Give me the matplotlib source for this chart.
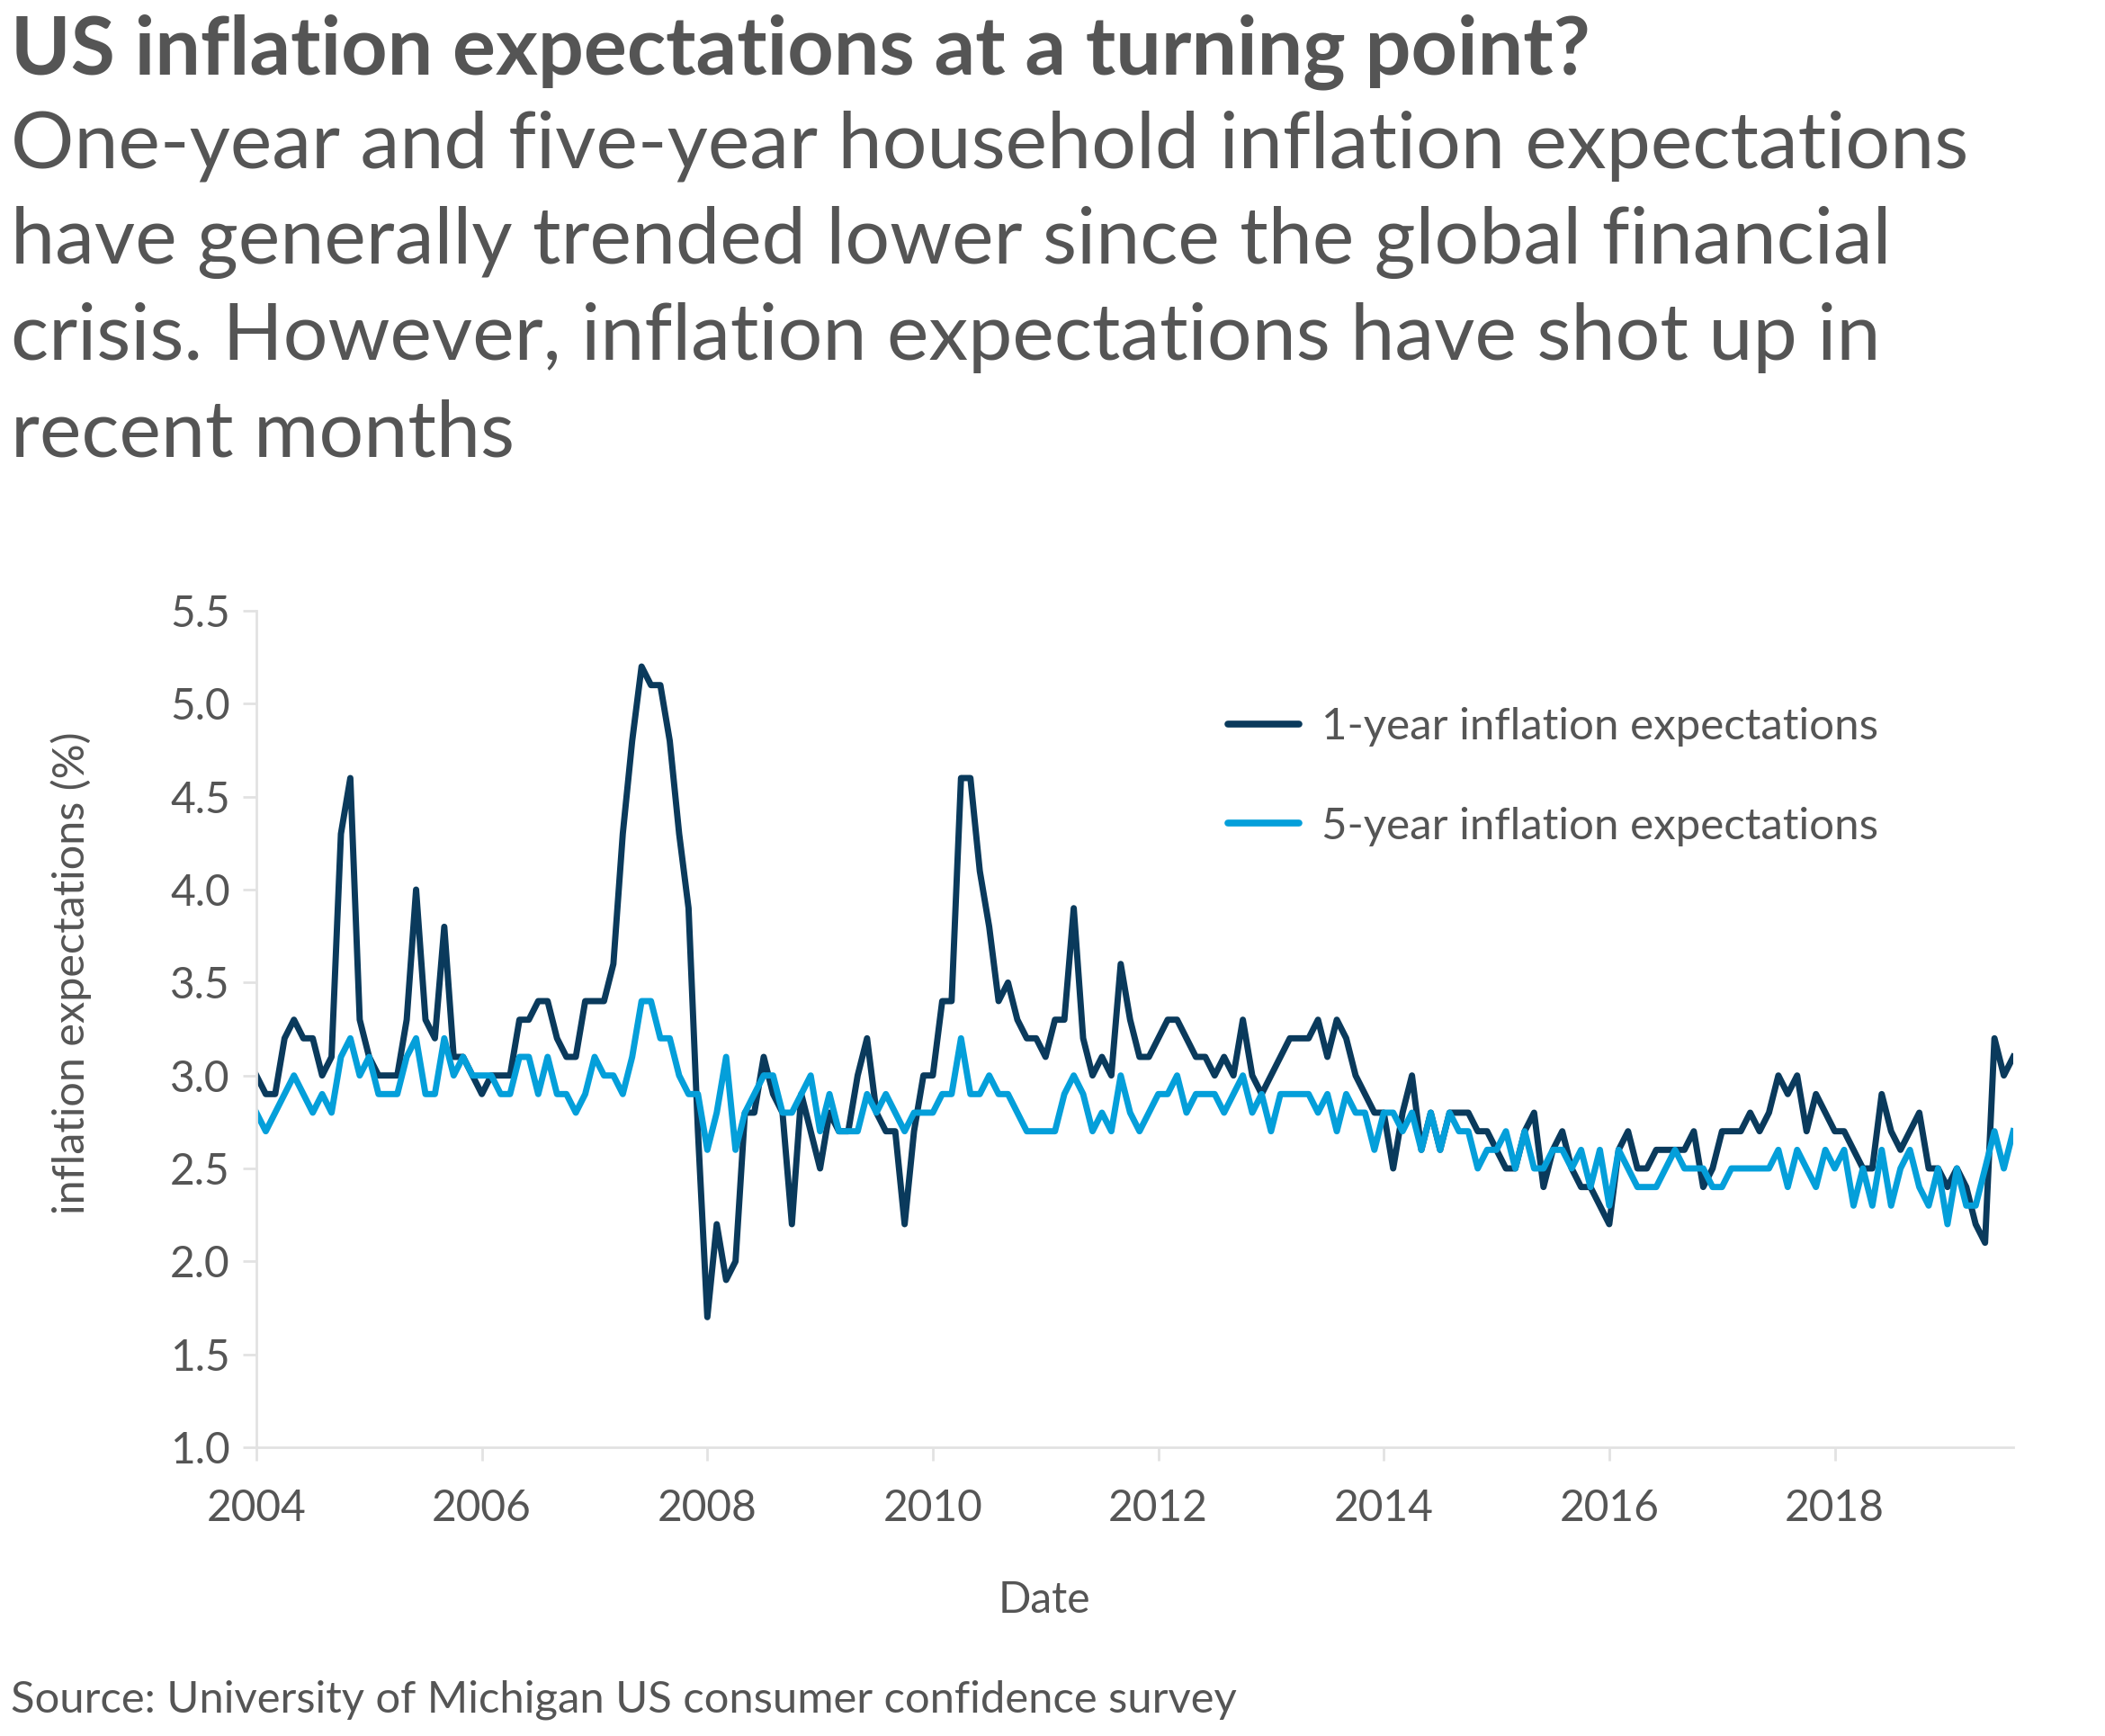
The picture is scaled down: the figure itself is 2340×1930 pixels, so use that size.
import numpy as np
import matplotlib
matplotlib.use('Agg')
import matplotlib.pyplot as plt

# monthly survey values, Jan 2004 .. Aug 2019
one_year = [
    3.0, 2.9, 2.9, 3.2, 3.3, 3.2, 3.2, 3.0, 3.1, 4.3, 4.6, 3.3,  # 2004
    3.1, 3.0, 3.0, 3.0, 3.3, 4.0, 3.3, 3.2, 3.8, 3.1, 3.1, 3.0,  # 2005
    2.9, 3.0, 3.0, 3.0, 3.3, 3.3, 3.4, 3.4, 3.2, 3.1, 3.1, 3.4,  # 2006
    3.4, 3.4, 3.6, 4.3, 4.8, 5.2, 5.1, 5.1, 4.8, 4.3, 3.9, 2.7,  # 2007
    1.7, 2.2, 1.9, 2.0, 2.8, 2.8, 3.1, 2.9, 2.8, 2.2, 2.9, 2.7,  # 2008
    2.5, 2.8, 2.7, 2.7, 3.0, 3.2, 2.8, 2.7, 2.7, 2.2, 2.7, 3.0,  # 2009
    3.0, 3.4, 3.4, 4.6, 4.6, 4.1, 3.8, 3.4, 3.5, 3.3, 3.2, 3.2,  # 2010
    3.1, 3.3, 3.3, 3.9, 3.2, 3.0, 3.1, 3.0, 3.6, 3.3, 3.1, 3.1,  # 2011
    3.2, 3.3, 3.3, 3.2, 3.1, 3.1, 3.0, 3.1, 3.0, 3.3, 3.0, 2.9,  # 2012
    3.0, 3.1, 3.2, 3.2, 3.2, 3.3, 3.1, 3.3, 3.2, 3.0, 2.9, 2.8,  # 2013
    2.8, 2.5, 2.8, 3.0, 2.6, 2.8, 2.6, 2.8, 2.8, 2.8, 2.7, 2.7,  # 2014
    2.6, 2.5, 2.5, 2.7, 2.8, 2.4, 2.6, 2.7, 2.5, 2.4, 2.4, 2.3,  # 2015
    2.2, 2.6, 2.7, 2.5, 2.5, 2.6, 2.6, 2.6, 2.6, 2.7, 2.4, 2.5,  # 2016
    2.7, 2.7, 2.7, 2.8, 2.7, 2.8, 3.0, 2.9, 3.0, 2.7, 2.9, 2.8,  # 2017
    2.7, 2.7, 2.6, 2.5, 2.5, 2.9, 2.7, 2.6, 2.7, 2.8, 2.5, 2.5,  # 2018
    2.4, 2.5, 2.4, 2.2, 2.1, 3.2, 3.0, 3.1,                      # 2019
]
five_year = [
    2.8, 2.7, 2.8, 2.9, 3.0, 2.9, 2.8, 2.9, 2.8, 3.1, 3.2, 3.0,
    3.1, 2.9, 2.9, 2.9, 3.1, 3.2, 2.9, 2.9, 3.2, 3.0, 3.1, 3.0,
    3.0, 3.0, 2.9, 2.9, 3.1, 3.1, 2.9, 3.1, 2.9, 2.9, 2.8, 2.9,
    3.1, 3.0, 3.0, 2.9, 3.1, 3.4, 3.4, 3.2, 3.2, 3.0, 2.9, 2.9,
    2.6, 2.8, 3.1, 2.6, 2.8, 2.9, 3.0, 3.0, 2.8, 2.8, 2.9, 3.0,
    2.7, 2.9, 2.7, 2.7, 2.7, 2.9, 2.8, 2.9, 2.8, 2.7, 2.8, 2.8,
    2.8, 2.9, 2.9, 3.2, 2.9, 2.9, 3.0, 2.9, 2.9, 2.8, 2.7, 2.7,
    2.7, 2.7, 2.9, 3.0, 2.9, 2.7, 2.8, 2.7, 3.0, 2.8, 2.7, 2.8,
    2.9, 2.9, 3.0, 2.8, 2.9, 2.9, 2.9, 2.8, 2.9, 3.0, 2.8, 2.9,
    2.7, 2.9, 2.9, 2.9, 2.9, 2.8, 2.9, 2.7, 2.9, 2.8, 2.8, 2.6,
    2.8, 2.8, 2.7, 2.8, 2.6, 2.8, 2.6, 2.8, 2.7, 2.7, 2.5, 2.6,
    2.6, 2.7, 2.5, 2.7, 2.5, 2.5, 2.6, 2.6, 2.5, 2.6, 2.4, 2.6,
    2.3, 2.6, 2.5, 2.4, 2.4, 2.4, 2.5, 2.6, 2.5, 2.5, 2.5, 2.4,
    2.4, 2.5, 2.5, 2.5, 2.5, 2.5, 2.6, 2.4, 2.6, 2.5, 2.4, 2.6,
    2.5, 2.6, 2.3, 2.5, 2.3, 2.6, 2.3, 2.5, 2.6, 2.4, 2.3, 2.5,
    2.2, 2.5, 2.3, 2.3, 2.5, 2.7, 2.5, 2.7,
]
start_year = 2004
year_ticks = [2004, 2006, 2008, 2010, 2012, 2014, 2016, 2018]
y_ticks = [1.0, 1.5, 2.0, 2.5, 3.0, 3.5, 4.0, 4.5, 5.0, 5.5]

title = 'US inflation expectations at a turning point?'
subtitle = ['One-year and five-year household inflation expectations',
            'have generally trended lower since the global financial',
            'crisis. However, inflation expectations have shot up in',
            'recent months']
source = 'Source: University of Michigan US consumer confidence survey'

TEXT = '#555555'
DARK = '#0a3a5c'
LIGHT = '#049fda'
AXIS = '#e2e2e2'
W, H = 2340, 1930

plt.rcParams['font.family'] = ['Lato', 'DejaVu Sans']

dates = start_year + np.arange(len(one_year)) / 12

fig = plt.figure(figsize=(W / 100, H / 100), dpi=100)
renderer = fig.canvas.get_renderer()


def fit_width(txt, target_px):
    # scale font so the rendered text spans the measured width
    w = txt.get_window_extent(renderer).width
    txt.set_fontsize(txt.get_fontsize() * target_px / w)
    return txt.get_fontsize()


ax = fig.add_axes([285 / W, 1 - 1609 / H, (2238 - 285) / W, (1609 - 679) / H])
ax.plot(dates, one_year, color=DARK, lw=5.0, label='1-year inflation expectations')
ax.plot(dates, five_year, color=LIGHT, lw=5.0, label='5-year inflation expectations')
ax.set_xlim(start_year, dates[-1])
ax.set_ylim(y_ticks[0], y_ticks[-1])
ax.set_yticks(y_ticks)
ax.set_yticklabels([f'{v:.1f}' for v in y_ticks])
ax.set_xticks(year_ticks)
ax.set_xticklabels([str(y) for y in year_ticks])
for side in ['top', 'right']:
    ax.spines[side].set_visible(False)
for side in ['left', 'bottom']:
    ax.spines[side].set_color(AXIS)
    ax.spines[side].set_linewidth(2)
ax.tick_params(axis='both', color=AXIS, labelcolor=TEXT, length=11, width=2,
               labelsize=34.5)
ax.tick_params(axis='y', pad=10)
ax.tick_params(axis='x', pad=22)

leg = ax.legend(loc='upper left', bbox_to_anchor=(1365 / W, 1 - 786 / H),
                bbox_transform=fig.transFigure, frameon=False, fontsize=35.5,
                handlelength=1.6, handletextpad=0.5, labelspacing=1.35,
                borderpad=0, borderaxespad=0)
for t in leg.get_texts():
    t.set_color(TEXT)
for ln in leg.get_lines():
    ln.set_solid_capstyle('round')
    ln.set_linewidth(5.5)

fig.text(79 / W, 1 - 1082 / H, 'inflation expectations (%)', rotation=90,
         ha='center', va='center', fontsize=35, color=TEXT)
fig.text(1161 / W, 1 - 1779 / H, 'Date', ha='center', va='center',
         fontsize=34.5, color=TEXT)

t = fig.text(12 / W, 1 - 82 / H, title, ha='left', va='baseline',
             fontsize=60, fontweight='bold', color=TEXT)
fit_width(t, 1757)

baselines = [187, 293, 400, 507]
lines = []
for line, b in zip(subtitle, baselines):
    lines.append(fig.text(12 / W, 1 - b / H, line, ha='left', va='baseline',
                          fontsize=50, color=TEXT))
size = fit_width(lines[0], 2174)
for ln in lines[1:]:
    ln.set_fontsize(size)

s = fig.text(12 / W, 1 - 1903 / H, source, ha='left', va='baseline',
             fontsize=30, color=TEXT)
fit_width(s, 1364)

fig.savefig('out.png', dpi=100)
